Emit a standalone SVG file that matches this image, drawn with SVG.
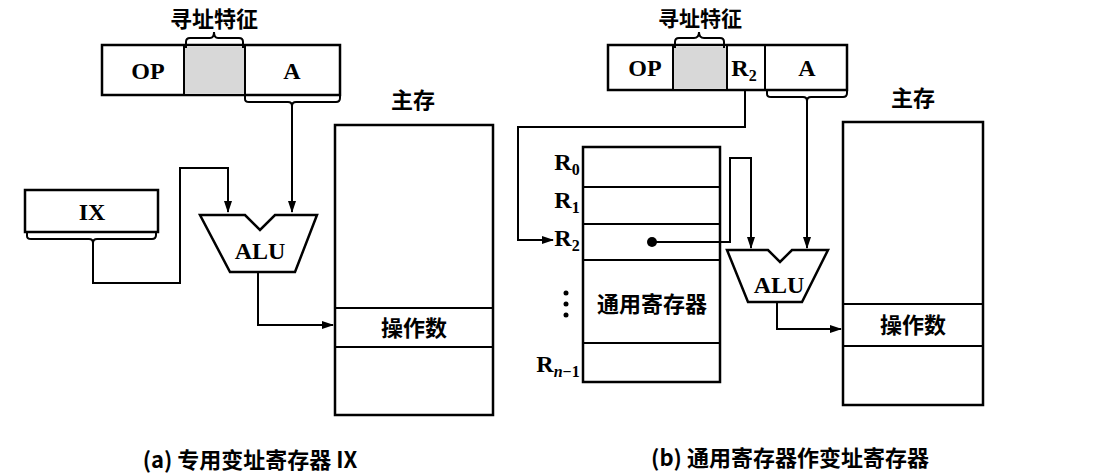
<svg xmlns="http://www.w3.org/2000/svg" width="1098" height="476" viewBox="0 0 1098 476">
<style>
.b{fill:#fff;stroke:#000;stroke-width:2.5}
.l{fill:none;stroke:#000;stroke-width:2}
.g{fill:#d8d8d8;stroke:#000;stroke-width:2}
.t{font-family:"Liberation Serif",serif;font-size:24px;font-weight:bold;text-anchor:middle}
.c{font-family:"Noto Sans CJK SC",sans-serif;font-size:22px;font-weight:bold;text-anchor:middle}
</style>
<defs><marker id="a" markerWidth="12" markerHeight="8" refX="11" refY="4" orient="auto" markerUnits="userSpaceOnUse"><path d="M0,0 L12,4 L0,8 Z"/></marker></defs>
<g id="instrA"><rect class="b" x="102" y="45" width="238" height="50"/><rect class="g" x="184" y="45" width="61" height="50"/><line class="l" x1="245" y1="45" x2="245" y2="95"/>
<text class="t" x="148" y="79">OP</text><text class="t" x="292" y="79">A</text>
<path class="l" d="M186,48 V42 Q186,38 190,38 H210 Q214,38 214,32 Q214,38 218,38 H239 Q243,38 243,42 V48"/>
<text class="c" x="214" y="27">寻址特征</text></g>
<g id="IX"><rect class="b" x="25" y="190" width="133" height="42"/><text class="t" x="92" y="220">IX</text></g>
<g id="aluA"><path class="b" d="M200,215 H245 L260,230 L275,215 H317 L295,272 H230 Z"/><text class="t" x="260" y="259">ALU</text></g>
<g id="memA"><text class="c" x="413" y="108">主存</text><rect class="b" x="335" y="125" width="158" height="290"/><line class="l" x1="335" y1="308" x2="493" y2="308"/><line class="l" x1="335" y1="347" x2="493" y2="347"/><text class="c" x="414" y="336">操作数</text></g>
<g id="instrB"><rect class="b" x="608" y="45" width="239" height="45"/><rect class="g" x="673" y="45" width="54" height="45"/><line class="l" x1="765" y1="45" x2="765" y2="90"/>
<text class="t" x="645" y="76">OP</text><text class="t" x="744" y="76">R<tspan font-size="16" dy="5">2</tspan></text><text class="t" x="807" y="76">A</text>
<path class="l" d="M675,48 V42 Q675,38 679,38 H694 Q699,38 699,32 Q699,38 704,38 H720 Q724,38 724,42 V48"/>
<text class="c" x="700" y="26" style="font-size:21px">寻址特征</text></g>
<g id="regs"><rect class="b" x="583" y="147" width="137" height="235"/>
<line class="l" x1="583" y1="187" x2="720" y2="187"/><line class="l" x1="583" y1="224" x2="720" y2="224"/><line class="l" x1="583" y1="260" x2="720" y2="260"/><line class="l" x1="583" y1="343" x2="720" y2="343"/>
<text class="t" x="567" y="170">R<tspan font-size="16" dy="5">0</tspan></text><text class="t" x="567" y="208">R<tspan font-size="16" dy="5">1</tspan></text><text class="t" x="567" y="246">R<tspan font-size="16" dy="5">2</tspan></text>
<circle cx="566" cy="293" r="2.5"/><circle cx="566" cy="304" r="2.5"/><circle cx="566" cy="315" r="2.5"/>
<text class="t" x="558" y="372">R<tspan font-size="16" dy="5" font-style="italic">n</tspan><tspan font-size="16">−1</tspan></text>
<text class="c" x="652" y="312">通用寄存器</text></g>
<g id="aluB"><path class="b" d="M727,250 H768 L780,262 L792,250 H828 L802,302 H748 Z"/><text class="t" x="779" y="293">ALU</text></g>
<g id="memB"><text class="c" x="913" y="106">主存</text><rect class="b" x="843" y="122" width="140" height="283"/><line class="l" x1="843" y1="304" x2="983" y2="304"/><line class="l" x1="843" y1="346" x2="983" y2="346"/><text class="c" x="913" y="333">操作数</text></g>
<g id="connectors">
<path class="l" d="M245,95 V99 Q245,102 249,102 H288 Q292,102 292,106 Q292,102 296,102 H336 Q340,102 340,98 V95"/>
<path class="l" d="M292,106 V212" marker-end="url(#a)"/>
<path class="l" d="M27,232 V236 Q27,239 31,239 H89 Q93,239 93,243 Q93,239 97,239 H152 Q156,239 156,235 V232"/>
<path class="l" d="M93,243 V283 H180 V168 H228 V212" marker-end="url(#a)"/>
<path class="l" d="M258,272 V325 H333" marker-end="url(#a)"/>
<path class="l" d="M745,90 V127 H518 V240 H553" marker-end="url(#a)"/>
<circle cx="652" cy="242" r="5"/>
<path class="l" d="M652,242 H730 V158 H751 V248" marker-end="url(#a)"/>
<path class="l" d="M767,90 V94 Q767,97 771,97 H803 Q807,97 807,101 Q807,97 811,97 H843 Q847,97 847,93 V90"/>
<path class="l" d="M807,101 V248" marker-end="url(#a)"/>
<path class="l" d="M777,302 V329 H841" marker-end="url(#a)"/>
</g>
<text class="c" x="250" y="468">(a)  专用变址寄存器 IX</text>
<text class="c" x="790" y="466">(b)  通用寄存器作变址寄存器</text>
</svg>
